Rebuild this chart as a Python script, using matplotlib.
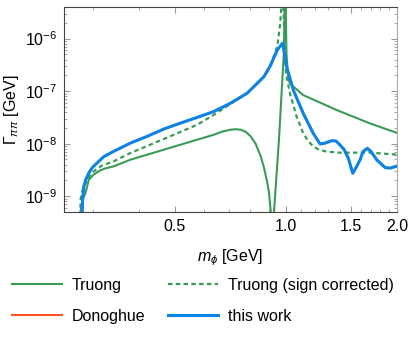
import matplotlib
matplotlib.use("Agg")
import matplotlib.pyplot as plt
import matplotlib.ticker as mticker
import numpy as np

plt.rcParams["font.family"] = ["Liberation Sans", "DejaVu Sans"]
plt.rcParams["mathtext.fontset"] = "custom"
plt.rcParams["mathtext.rm"] = "Liberation Sans"
plt.rcParams["mathtext.it"] = "Liberation Sans:italic"
plt.rcParams["font.size"] = 11.5

# this work (m_phi in GeV, log10 of Gamma in GeV)
m_this = [0.2795, 0.280, 0.281, 0.283, 0.2865, 0.292, 0.2984, 0.3075, 0.3206, 0.341,
          0.379, 0.420, 0.4665, 0.518, 0.5745, 0.6376, 0.7077, 0.785, 0.8715, 0.908,
          0.947, 0.980, 1.004, 1.047, 1.114, 1.186, 1.237, 1.276, 1.331, 1.367,
          1.401, 1.437, 1.476, 1.517, 1.549, 1.588, 1.618, 1.662, 1.70, 1.763,
          1.857, 1.915, 2.01]
lg_this = [-11.0, -9.29, -9.025, -8.81, -8.683, -8.556, -8.455, -8.366, -8.247, -8.146,
           -7.987, -7.861, -7.721, -7.607, -7.50, -7.387, -7.228, -7.038, -6.723, -6.51,
           -6.216, -6.083, -6.539, -6.981, -7.425, -7.805, -8.006, -7.99, -7.943, -7.95,
           -8.025, -8.11, -8.279, -8.564, -8.455, -8.309, -8.15, -8.089, -8.15, -8.309,
           -8.455, -8.465, -8.423]

# Truong
m_tru = [0.2770, 0.2772, 0.281, 0.286, 0.292, 0.301, 0.3127, 0.3227, 0.341, 0.379,
         0.4665, 0.5745, 0.6376, 0.670, 0.7077, 0.730, 0.7535, 0.777, 0.802, 0.827,
         0.854, 0.8715, 0.890, 0.899, 0.909, 0.916, 0.928, 0.957, 0.9876, 0.992,
         0.997, 1.003, 1.0145, 1.025, 1.114, 1.373, 1.69, 2.01]
lg_tru = [-11.0, -9.285, -9.06, -8.935, -8.683, -8.588, -8.512, -8.474, -8.431, -8.304,
          -8.114, -7.924, -7.829, -7.772, -7.734, -7.725, -7.734, -7.772, -7.861, -8.0,
          -8.241, -8.455, -8.746, -8.93, -9.285, -12.0, -9.285, -7.924, -6.216, -5.2,
          -5.2, -6.3, -6.76, -6.856, -7.076, -7.36, -7.615, -7.80]

# Truong (sign corrected)
m_trs = [0.2770, 0.2772, 0.2815, 0.289, 0.294, 0.301, 0.3166, 0.341, 0.379, 0.4665,
         0.5745, 0.6376, 0.7077, 0.785, 0.8715, 0.908, 0.947, 0.965, 0.975, 0.983,
         0.99, 0.994, 1.0, 1.025, 1.069, 1.114, 1.147, 1.186, 1.229, 1.289,
         1.401, 1.523, 1.69, 2.01]
lg_trs = [-11.0, -9.06, -8.854, -8.683, -8.607, -8.526, -8.417, -8.336, -8.176, -7.911,
          -7.639, -7.45, -7.241, -7.038, -6.723, -6.50, -6.15, -5.7, -5.2, -5.2,
          -6.0, -6.4, -6.666, -7.045, -7.488, -7.805, -7.943, -8.057, -8.114, -8.152,
          -8.171, -8.171, -8.171, -8.209]

c_green = "#3a9b54"
c_orange = "#ff5722"
c_blue = "#0b84e6"

fig = plt.figure(figsize=(4.09, 3.37), dpi=100)
ax = fig.add_axes([64/409, 1-212/337, (397-64)/409, (212-7)/337])

ax.plot(m_tru, 10**np.array(lg_tru), color=c_green, lw=1.5, label="Truong")
ax.plot(m_this, 10**np.array(lg_this), color=c_orange, lw=1.5, label="Donoghue")
ax.plot(m_trs, 10**np.array(lg_trs), color=c_green, lw=1.6, dashes=(2, 1.5),
        label="Truong (sign corrected)")
ax.plot(m_this, 10**np.array(lg_this), color=c_blue, lw=2.2, label="this work")

ax.set_xscale("log")
ax.set_yscale("log")
ax.set_xlim(0.25, 2.0)
ax.set_ylim(5e-10, 4e-6)

ax.xaxis.set_major_locator(mticker.FixedLocator([0.5, 1.0, 1.5, 2.0]))
ax.xaxis.set_major_formatter(mticker.FixedFormatter(["0.5", "1.0", "1.5", "2.0"]))
ax.xaxis.set_minor_locator(mticker.FixedLocator(
    [0.3, 0.4, 0.6, 0.7, 0.8, 0.9, 1.1, 1.2, 1.3, 1.4, 1.6, 1.7, 1.8, 1.9]))
ax.xaxis.set_minor_formatter(mticker.NullFormatter())
ax.yaxis.set_major_locator(mticker.LogLocator(base=10, numticks=10))
ax.yaxis.set_minor_locator(mticker.LogLocator(base=10, subs=np.arange(2, 10), numticks=10))
ax.yaxis.set_minor_formatter(mticker.NullFormatter())

ax.tick_params(which="both", direction="in", top=True, right=True, color="#999999")
ax.tick_params(which="major", length=4, width=0.8, labelsize=11.5, pad=5)
ax.tick_params(which="minor", length=2, width=0.6)
for s in ["left", "bottom", "top"]:
    ax.spines[s].set_color("#444444")
ax.spines["right"].set_color("#aaaaaa")

ax.set_xlabel(r"$m_\phi$ [GeV]", fontsize=11.5, labelpad=10)
ax.set_ylabel(r"$\Gamma_{\pi\pi}$ [GeV]", fontsize=11.5, labelpad=3)

h, l = ax.get_legend_handles_labels()
fig.legend(h, l, ncol=2, loc="center left", bbox_to_anchor=(12/409, 1-301/337),
           frameon=False, borderpad=0, borderaxespad=0, handlelength=3.1,
           handletextpad=0.63, columnspacing=1.45, labelspacing=1.0, fontsize=11.5)

fig.savefig("out.png", dpi=100)
